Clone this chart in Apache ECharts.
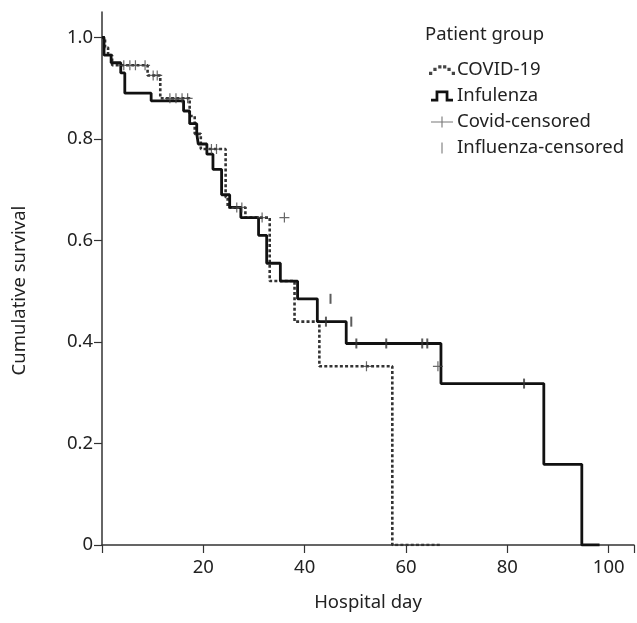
<!DOCTYPE html>
<html>
<head>
<meta charset="utf-8">
<script src="https://cdn.jsdelivr.net/npm/echarts@6/dist/echarts.min.js"></script>
<style>
  html, body { margin: 0; padding: 0; background: #fff; }
  #chart { width: 637px; height: 623px; }
</style>
</head>
<body>
<div id="chart"></div>
<script>
  // Kaplan-Meier steps: time (hospital day) and survival after the step
  var covidTime = [0, 0.6, 1.2, 2.0, 9.0, 11.5, 17.3, 18.3, 19.5, 24.4, 24.8, 28.3, 33.1, 38.0, 42.9, 57.3, 66.9]
  var covidSurv = [1.0, 0.98, 0.965, 0.945, 0.925, 0.88, 0.845, 0.81, 0.78, 0.685, 0.665, 0.645, 0.52, 0.44, 0.352, 0, 0]

  var fluTime = [0, 0.4, 1.8, 3.7, 4.5, 9.7, 16.1, 17.3, 18.7, 19.0, 20.7, 21.9, 23.6, 25.2, 27.4, 30.9, 32.5, 35.2, 38.6, 42.5, 48.2, 66.9, 87.2, 94.7, 98.2]
  var fluSurv = [1.0, 0.965, 0.95, 0.93, 0.89, 0.875, 0.855, 0.83, 0.81, 0.79, 0.77, 0.74, 0.69, 0.665, 0.645, 0.61, 0.555, 0.52, 0.485, 0.44, 0.397, 0.318, 0.159, 0, 0]

  // censored cases
  var covidCensored = [[4.3, 0.945], [5.5, 0.945], [6.6, 0.945], [8.5, 0.945], [10.1, 0.925], [10.9, 0.925],
    [13.4, 0.88], [14.6, 0.88], [15.8, 0.88], [16.9, 0.88], [21.6, 0.78], [22.6, 0.78],
    [26.6, 0.665], [27.6, 0.665], [31.6, 0.645], [36.0, 0.645], [52.2, 0.352], [66.3, 0.352]]
  var fluCensored = [[44.2, 0.44], [45.1, 0.485], [49.2, 0.44], [50.2, 0.397], [56.1, 0.397],
    [63.2, 0.397], [64.2, 0.397], [83.3, 0.318]]

  var xTicks = [20, 40, 60, 80, 100]

  function pairs(t, s) {
    return t.map(function (v, i) { return [v, s[i]] })
  }

  var FONT = 'Noto Sans'
  var INK = '#222'

  var plusPath = 'path://M0,4.4H10V5.6H0Z M4.4,0H5.6V10H4.4Z'
  var barPath = 'path://M0,0H1V10H0Z'

  var chart = echarts.init(document.getElementById('chart'))
  var option = {
    animation: false,
    title: {
      text: 'Patient group',
      left: 420,
      top: 20,
      textStyle: { fontFamily: FONT, fontSize: 18.5, fontWeight: 'normal', color: INK }
    },
    legend: {
      orient: 'vertical',
      left: 424,
      top: 54,
      itemWidth: 26,
      itemHeight: 11,
      itemGap: 4,
      selectedMode: false,
      textStyle: { fontFamily: FONT, fontSize: 18.5, lineHeight: 22, color: INK, padding: [0, 0, 0, -3] },
      data: [
        {
          name: 'COVID-19',
          icon: 'path://M0,9h3v3h-3z M4,5.5h3v3h-3z M8.5,3h3v3h-3z M13,3h3v3h-3z M17,5.5h3v3h-3z M21,9h3v3h-3z',
          itemStyle: { color: '#444' },
          lineStyle: { opacity: 0 }
        },
        {
          name: 'Infulenza',
          icon: 'path://M0,9H5V0H19V9H24V12H16V3H8V12H0Z',
          itemStyle: { color: '#111' },
          lineStyle: { opacity: 0 }
        },
        {
          name: 'Covid-censored',
          icon: 'path://M0,5.4H24V6.6H0Z M11.4,0H12.6V12H11.4Z',
          itemStyle: { color: '#555' }
        },
        {
          name: 'Influenza-censored',
          icon: 'path://M11.3,2H12.7V12H11.3Z',
          itemStyle: { color: '#888' }
        }
      ]
    },
    grid: {
      left: 102,
      right: 1,
      top: 12,
      bottom: 78
    },
    xAxis: {
      type: 'value',
      min: 0,
      max: 105,
      interval: 20,
      name: 'Hospital day',
      nameLocation: 'middle',
      nameGap: 48,
      nameTextStyle: { fontFamily: FONT, fontSize: 18.5, color: INK },
      axisLine: { lineStyle: { color: '#333', width: 1.5 } },
      axisTick: { show: true, inside: false, length: 8, lineStyle: { color: '#333', width: 1.2 } },
      axisLabel: {
        fontFamily: FONT,
        fontSize: 18.5,
        color: INK,
        margin: 13,
        formatter: function (v) { return xTicks.indexOf(v) >= 0 ? String(v) : '' }
      },
      splitLine: { show: false }
    },
    yAxis: {
      type: 'value',
      min: 0,
      max: 1.05,
      interval: 0.2,
      name: 'Cumulative survival',
      nameLocation: 'middle',
      nameGap: 73,
      nameTextStyle: { fontFamily: FONT, fontSize: 18.5, color: INK, padding: [0, 24, 0, 0] },
      axisLine: { show: true, lineStyle: { color: '#333', width: 1.5 } },
      axisTick: { show: true, inside: false, length: 8, lineStyle: { color: '#333', width: 1.2 } },
      axisLabel: {
        fontFamily: FONT,
        fontSize: 18.5,
        color: INK,
        margin: 9,
        showMaxLabel: false,
        formatter: function (v) { return v === 0 ? '0' : v.toFixed(1) }
      },
      splitLine: { show: false }
    },
    series: [
      {
        name: 'COVID-19',
        type: 'line',
        step: 'end',
        showSymbol: false,
        symbol: 'none',
        lineStyle: { color: '#333', width: 2.6, type: [3, 2.2] },
        itemStyle: { color: '#333' },
        data: pairs(covidTime, covidSurv),
        z: 2
      },
      {
        name: 'Infulenza',
        type: 'line',
        step: 'end',
        showSymbol: false,
        symbol: 'none',
        lineStyle: { color: '#111', width: 2.8 },
        itemStyle: { color: '#111' },
        data: pairs(fluTime, fluSurv),
        z: 3
      },
      {
        name: 'Covid-censored',
        type: 'scatter',
        symbol: plusPath,
        symbolSize: 10,
        itemStyle: { color: '#444' },
        data: covidCensored,
        z: 4
      },
      {
        name: 'Influenza-censored',
        type: 'scatter',
        symbol: barPath,
        symbolSize: [2, 10],
        itemStyle: { color: '#333' },
        data: fluCensored,
        z: 4
      }
    ]
  }
  chart.setOption(option)
</script>
</body>
</html>
